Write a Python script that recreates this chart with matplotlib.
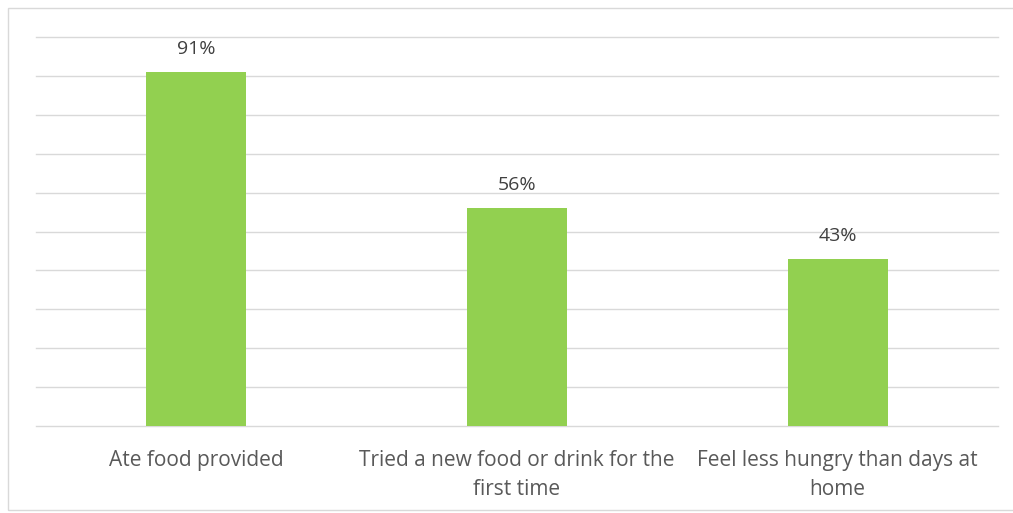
import matplotlib
matplotlib.use("Agg")
import matplotlib.pyplot as plt
from matplotlib.patches import Rectangle

categories = [
    "Ate food provided",
    "Tried a new food or drink for the\nfirst time",
    "Feel less hungry than days at\nhome",
]
values = [91, 56, 43]
value_labels = ["91%", "56%", "43%"]

W, H = 1013, 513
fig = plt.figure(figsize=(W / 100, H / 100), dpi=100)
fig.patch.set_facecolor("white")

# chart area border (runs off the right edge of the image)
fig.add_artist(Rectangle((8 / W, 3 / H), (W + 4) / W, (H - 11) / H,
                         transform=fig.transFigure, fill=False,
                         edgecolor="#d9d9d9", linewidth=1.0))

ax = fig.add_axes([36 / W, 1 - 426 / H, (998 - 36) / W, (426 - 37) / H])
x = list(range(len(categories)))
ax.bar(x, values, width=0.312, color="#92d050", zorder=3)
ax.set_xlim(-0.5, len(categories) - 0.5)
ax.set_ylim(0, 100)
ax.set_yticks(range(0, 101, 10))
ax.yaxis.grid(True, color="#d9d9d9", linewidth=1.0, zorder=0)
for gl in ax.get_ygridlines():
    gl.set_clip_on(False)
ax.tick_params(axis="y", left=False, labelleft=False)
ax.tick_params(axis="x", length=0, pad=17)
ax.set_xticks(x)
ax.set_xticklabels(categories, fontsize=15, color="#595959",
                   family="Open Sans", linespacing=1.55)
for s in ax.spines.values():
    s.set_visible(False)

for xi, v, lab in zip(x, values, value_labels):
    ax.annotate(lab, (xi, v), xytext=(0, 10), textcoords="offset points",
                ha="center", va="bottom", fontsize=14, color="#404040",
                family="Open Sans")

fig.savefig("out.png", dpi=100, facecolor="white")
